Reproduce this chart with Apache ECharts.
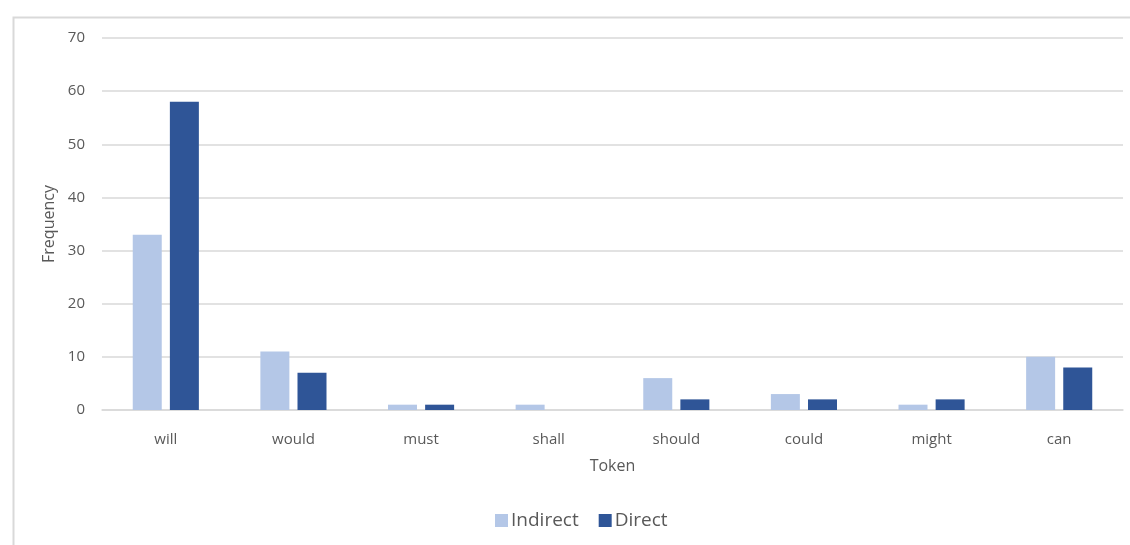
<!DOCTYPE html>
<html>
<head>
<meta charset="utf-8">
<script src="https://cdn.jsdelivr.net/npm/echarts@6/dist/echarts.min.js"></script>
<style>
html,body{margin:0;padding:0;background:#fff;}
#c{width:1130px;height:545px;}
</style>
</head>
<body>
<div id="c"></div>
<script>
var categories = ['will','would','must','shall','should','could','might','can'];
var indirect = [33, 11, 1, 1, 6, 3, 1, 10];
var direct = [58, 7, 1, 0, 2, 2, 2, 8];
var yTicks = {min: 0, max: 70, interval: 10};

var font = '"Open Sans", "Noto Sans", sans-serif';
var chart = echarts.init(document.getElementById('c'), null, {renderer: 'canvas'});
chart.setOption({
  animation: false,
  backgroundColor: '#fff',
  graphic: [{
    type: 'rect', left: 11, top: 15,
    shape: {width: 1140, height: 560},
    style: {fill: 'none', stroke: '#d9d9d9', lineWidth: 2},
    silent: true
  }],
  grid: {left: 102, right: 7, top: 38, bottom: 135},
  legend: {
    data: ['Indirect', 'Direct'],
    top: 506, left: 490,
    itemWidth: 13, itemHeight: 13, itemGap: 20,
    icon: 'rect',
    textStyle: {fontFamily: font, fontSize: 19, color: '#595959', padding: [0,0,0,-2]}
  },
  xAxis: {
    type: 'category',
    data: categories,
    name: 'Token',
    nameLocation: 'middle',
    nameGap: 48,
    nameTextStyle: {fontFamily: font, fontSize: 16, color: '#595959'},
    axisLine: {lineStyle: {color: '#d9d9d9', width: 1.5}},
    axisTick: {show: false},
    axisLabel: {fontFamily: font, fontSize: 15, color: '#595959', margin: 22}
  },
  yAxis: {
    type: 'value',
    min: yTicks.min, max: yTicks.max, interval: yTicks.interval,
    name: 'Frequency',
    nameLocation: 'middle',
    nameGap: 40,
    nameTextStyle: {fontFamily: font, fontSize: 16, color: '#595959'},
    axisLine: {show: false},
    axisTick: {show: false},
    splitLine: {lineStyle: {color: '#d9d9d9', width: 1.5}},
    axisLabel: {fontFamily: font, fontSize: 15, color: '#595959', margin: 17}
  },
  series: [
    {name: 'Indirect', type: 'bar', data: indirect, barWidth: 29, barGap: '28%',
     itemStyle: {color: '#b4c7e7'}},
    {name: 'Direct', type: 'bar', data: direct, barWidth: 29,
     itemStyle: {color: '#2f5597'}}
  ]
});
</script>
</body>
</html>
